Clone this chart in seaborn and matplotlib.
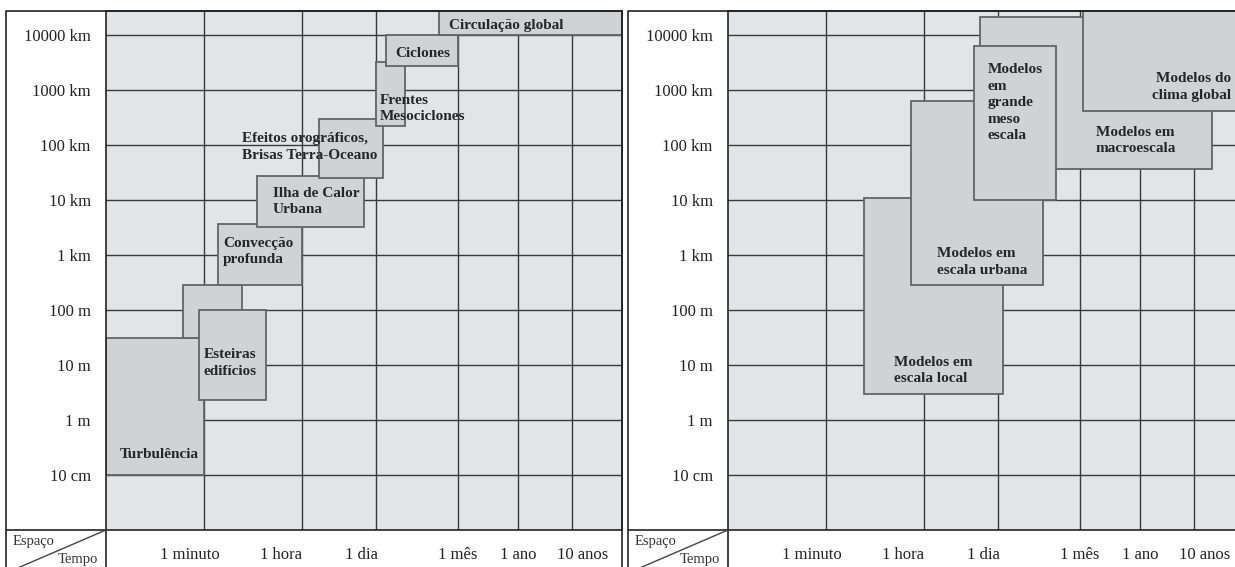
import numpy as np
import matplotlib
matplotlib.use('Agg')
import matplotlib.pyplot as plt
from matplotlib.lines import Line2D
from matplotlib.ticker import NullLocator
import seaborn as sns

# eixo do tempo: escala esquematica (unidades arbitrarias, 0 = inicio do eixo)
tempo_rotulos = ['1 minuto', '1 hora', '1 dia', '1 mês', '1 ano', '10 anos']
tempo_pos = [84, 175, 255, 352, 412, 477]
tempo_grade = [98, 196, 270, 352, 412, 466]

# eixo do espaco, em metros
espaco_m = [0.1, 1, 10, 100, 1e3, 1e4, 1e5, 1e6, 1e7]
espaco_rotulos = ['10 cm', '1 m', '10 m', '100 m', '1 km', '10 km',
                  '100 km', '1000 km', '10000 km']

# painel esquerdo: fenomenos
fen_nomes = ['Turbulência', '', 'Esteiras\nedifícios', 'Convecção\nprofunda',
             'Ilha de Calor\nUrbana', 'Efeitos orográficos,\nBrisas Terra-Oceano',
             'Frentes\nMesociclones', 'Ciclones', 'Circulação global']
fen_t0 = [0, 77, 93, 112, 151, 213, 270, 280, 333]
fen_t1 = [98, 136, 160, 196, 258, 277, 299, 352, 540]
fen_emin = [0.1, 31, 2.3, 290, 3.2e3, 25e3, 220e3, 2.7e6, 1e7]
fen_emax = [31, 290, 100, 3.6e3, 27e3, 300e3, 3.2e6, 1e7, 1e8]

# painel direito: modelos
mod_nomes = ['Modelos em\nescala local', 'Modelos em\nescala urbana',
             'Modelos em\nmacroescala', 'Modelos do\nclima global',
             'Modelos\nem\ngrande\nmeso\nescala']
mod_t0 = [136, 183, 252, 355, 246]
mod_t1 = [275, 315, 484, 540, 328]
mod_emin = [3, 280, 37e3, 420e3, 10e3]
mod_emax = [11e3, 630e3, 21e6, 1e8, 6.3e6]

# onde escrever cada rotulo (tempo, log10 metros, alinhamento)
fen_texto = [(14, -0.62, 'left'), None, (98, 1.04, 'left'), (117, 3.06, 'left'),
             (167, 3.97, 'left'), (136, 4.96, 'left'), (274, 5.66, 'left'),
             (289, 6.66, 'left'), (343, 7.18, 'left')]
mod_texto = [(166, 0.9, 'left'), (209, 2.875, 'left'), (368, 5.08, 'left'),
             (503, 6.05, 'right'), (260, 5.77, 'left')]

sns.set_theme(style='white')
plt.rcParams['font.family'] = ['Liberation Serif', 'DejaVu Serif']

W, H = 1235, 567
fig = plt.figure(figsize=(W / 100, H / 100), dpi=100)

FUNDO = '#e3e4e6'
CAIXA = '#d1d2d4'
BORDA = '#646464'
GRADE = '#3a3a3a'


def painel(x_px, nomes, t0, t1, emin, emax, textos):
    ax = fig.add_axes([x_px / W, (H - 530) / H, 516 / W, 519 / H])
    ax.set_facecolor(FUNDO)
    ax.set_yscale('log')
    largura = np.array(t1) - np.array(t0)
    altura = np.array(emax) - np.array(emin)
    for i in range(len(nomes)):
        ax.bar(t0[i], altura[i], width=largura[i], bottom=emin[i], align='edge',
               color=CAIXA, edgecolor=BORDA, linewidth=1.3, zorder=2)
    for nome, tx in zip(nomes, textos):
        if tx is None:
            continue
        ax.text(tx[0], 10 ** tx[1], nome, ha=tx[2], va='center', fontsize=11,
                fontweight='bold', color='#262626', linespacing=1.36, zorder=3)
    ax.set_xlim(0, 516)
    ax.set_ylim(1e-2, 10 ** 7.436)
    ax.set_yticks(espaco_m, espaco_rotulos)
    ax.yaxis.set_minor_locator(NullLocator())
    ax.xaxis.remove_overlapping_locs = False
    ax.set_xticks(tempo_pos, tempo_rotulos)
    ax.set_xticks(tempo_grade, minor=True)
    ax.set_axisbelow(True)
    ax.grid(axis='y', which='major', color=GRADE, linewidth=1.0)
    ax.grid(axis='x', which='minor', color=GRADE, linewidth=1.0)
    ax.grid(axis='x', which='major', visible=False)
    ax.tick_params(which='both', length=0, labelsize=12, colors='#222222')
    ax.tick_params(axis='y', pad=11)
    ax.tick_params(axis='x', pad=12)
    for s in ax.spines.values():
        s.set_visible(True)
        s.set_color('#222222')
        s.set_linewidth(1.2)
    return ax


ax1 = painel(106, fen_nomes, fen_t0, fen_t1, fen_emin, fen_emax, fen_texto)
ax2 = painel(728, mod_nomes, mod_t0, mod_t1, mod_emin, mod_emax, mod_texto)

# moldura, canto "Espaco / Tempo"
ov = fig.add_axes([0, 0, 1, 1], zorder=5)
ov.set_xlim(0, W)
ov.set_ylim(H, 0)
ov.axis('off')
ov.patch.set_visible(False)


def moldura(x0, xa, x1):
    kw = dict(color='#222222', linewidth=1.2)
    ov.add_line(Line2D([x0, x0, x1, x1], [H + 10, 11, 11, H + 10], **kw))
    ov.add_line(Line2D([x0, xa], [530, 530], **kw))
    ov.add_line(Line2D([xa, xa], [530, H + 10], **kw))
    ov.add_line(Line2D([x0, xa], [573, 530], color='#444444', linewidth=1.0))
    ov.text(x0 + 7, 541, 'Espaço', ha='left', va='center', fontsize=10.5, color='#333333')
    ov.text(xa - 8, 560, 'Tempo', ha='right', va='center', fontsize=10.5, color='#333333')


moldura(6, 106, 622)
moldura(628, 728, W + 20)

fig.savefig('out.png', dpi=100, facecolor='white')
